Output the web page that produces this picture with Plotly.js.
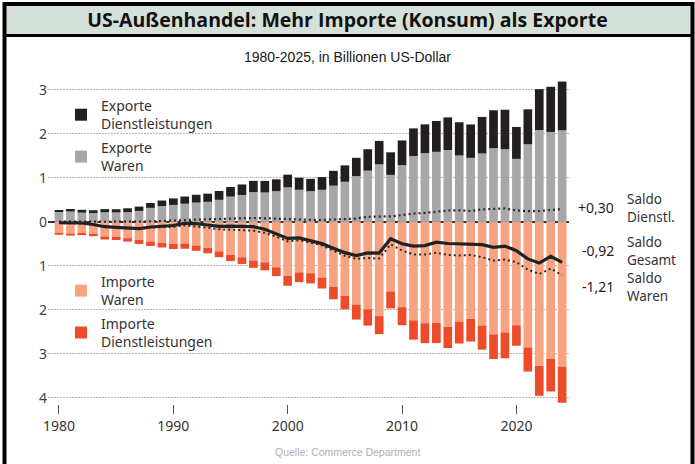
<!DOCTYPE html>
<html>
<head>
<meta charset="utf-8">
<script src="https://cdn.plot.ly/plotly-3.0.1.min.js"></script>
<style>
  html, body { margin: 0; padding: 0; background: #ffffff; }
  #chart { width: 695px; height: 464px; }
</style>
</head>
<body>
<div id="chart"></div>
<script>
// ---- Data (Billionen US-Dollar) ----
const years = [1980,1981,1982,1983,1984,1985,1986,1987,1988,1989,
               1990,1991,1992,1993,1994,1995,1996,1997,1998,1999,
               2000,2001,2002,2003,2004,2005,2006,2007,2008,2009,
               2010,2011,2012,2013,2014,2015,2016,2017,2018,2019,
               2020,2021,2022,2023,2024];

const exporteWaren = [0.224,0.237,0.211,0.202,0.220,0.216,0.223,0.250,0.320,0.360,
                      0.387,0.414,0.440,0.457,0.503,0.575,0.612,0.678,0.670,0.698,
                      0.785,0.731,0.698,0.730,0.824,0.913,1.041,1.165,1.309,1.070,
                      1.290,1.499,1.563,1.594,1.636,1.511,1.457,1.557,1.677,1.655,
                      1.434,1.766,2.090,2.046,2.084];

const exporteDienst = [0.048,0.057,0.064,0.064,0.071,0.073,0.087,0.099,0.111,0.127,
                       0.148,0.164,0.177,0.186,0.200,0.219,0.240,0.256,0.263,0.271,
                       0.290,0.274,0.281,0.290,0.338,0.373,0.417,0.488,0.533,0.513,
                       0.563,0.628,0.656,0.702,0.741,0.755,0.759,0.831,0.862,0.896,
                       0.726,0.795,0.929,1.027,1.108];

const importeWaren = [-0.250,-0.265,-0.248,-0.269,-0.332,-0.338,-0.368,-0.410,-0.447,-0.478,
                      -0.498,-0.491,-0.537,-0.589,-0.669,-0.749,-0.803,-0.877,-0.919,-1.032,
                      -1.227,-1.148,-1.167,-1.264,-1.477,-1.682,-1.879,-1.986,-2.141,-1.580,
                      -1.939,-2.240,-2.304,-2.294,-2.386,-2.273,-2.207,-2.358,-2.556,-2.512,
                      -2.349,-2.852,-3.273,-3.107,-3.296];

const importeDienst = [-0.042,-0.046,-0.052,-0.055,-0.068,-0.073,-0.080,-0.091,-0.099,-0.103,
                       -0.118,-0.119,-0.120,-0.124,-0.133,-0.141,-0.153,-0.166,-0.181,-0.199,
                       -0.224,-0.222,-0.231,-0.250,-0.282,-0.302,-0.341,-0.371,-0.409,-0.387,
                       -0.409,-0.437,-0.452,-0.461,-0.481,-0.492,-0.512,-0.545,-0.562,-0.588,
                       -0.466,-0.550,-0.680,-0.748,-0.815];

const saldoWaren = [-0.026,-0.028,-0.036,-0.067,-0.113,-0.122,-0.145,-0.160,-0.127,-0.118,
                    -0.111,-0.077,-0.097,-0.133,-0.166,-0.174,-0.191,-0.198,-0.248,-0.334,
                    -0.442,-0.417,-0.469,-0.534,-0.654,-0.769,-0.839,-0.821,-0.833,-0.510,
                    -0.649,-0.741,-0.741,-0.701,-0.750,-0.762,-0.750,-0.801,-0.879,-0.857,
                    -0.915,-1.086,-1.183,-1.061,-1.212];

const saldoDienst = [0.006,0.012,0.012,0.009,0.004,0.000,0.007,0.008,0.012,0.025,
                     0.030,0.046,0.058,0.062,0.067,0.078,0.087,0.090,0.082,0.072,
                     0.067,0.053,0.050,0.040,0.056,0.071,0.076,0.118,0.124,0.126,
                     0.154,0.191,0.204,0.240,0.260,0.264,0.247,0.286,0.300,0.307,
                     0.260,0.245,0.249,0.278,0.293];

const saldoGesamt = [-0.019,-0.016,-0.024,-0.058,-0.109,-0.122,-0.139,-0.152,-0.115,-0.093,
                     -0.081,-0.031,-0.039,-0.070,-0.099,-0.096,-0.104,-0.108,-0.166,-0.262,
                     -0.375,-0.364,-0.420,-0.494,-0.598,-0.698,-0.763,-0.703,-0.709,-0.384,
                     -0.495,-0.550,-0.537,-0.460,-0.490,-0.498,-0.503,-0.516,-0.579,-0.550,
                     -0.655,-0.841,-0.934,-0.782,-0.919];

const yTickVals = [3, 2, 1, 0, -1, -2, -3, -4];
const yTickText = ['3', '2', '1', '0', '1', '2', '3', '4'];
const xTickVals = [1980, 1990, 2000, 2010, 2020];

const titleText = 'US-Außenhandel: Mehr Importe (Konsum) als Exporte';
const subtitleText = '1980-2025, in Billionen US-Dollar';
const sourceText = 'Quelle: Commerce Department';
const endLabels = [
  {value: '+0,30', label: 'Saldo<br>Dienstl.', py: 208},
  {value: '-0,92', label: 'Saldo<br>Gesamt', py: 251},
  {value: '-1,21', label: 'Saldo<br>Waren', py: 287}
];

// ---- Layout geometry ----
const W = 695, H = 464;
const L = 48, R = 126, T = 79, B = 59.8;
const PW = W - L - R, PH = H - T - B;
const px2x = px => (px - L) / PW;
const py2y = py => 1 - (py - T) / PH;

const C_BLACK = '#231f20', C_GREY = '#a7a7a9', C_SALMON = '#f7a382', C_RED = '#ee4b2b';
const FONT = 'Noto Sans, Open Sans, sans-serif';

const traces = [
  {type: 'bar', x: years, y: exporteWaren, name: 'Exporte<br>Waren',
   marker: {color: C_GREY, line: {width: 0}}, legend: 'legend', legendgroup: 'ew', legendrank: 2},
  {type: 'bar', x: years, y: exporteDienst, name: 'Exporte<br>Dienstleistungen',
   marker: {color: C_BLACK, line: {width: 0}}, legend: 'legend', legendgroup: 'ed', legendrank: 1},
  {type: 'bar', x: years, y: importeWaren, name: 'Importe<br>Waren',
   marker: {color: C_SALMON, line: {width: 0}}, legend: 'legend2', legendgroup: 'iw', legendrank: 1},
  {type: 'bar', x: years, y: importeDienst, name: 'Importe<br>Dienstleistungen',
   marker: {color: C_RED, line: {width: 0}}, legend: 'legend2', legendgroup: 'id', legendrank: 2},
  {type: 'scatter', mode: 'lines', x: years, y: saldoDienst, name: 'Saldo Dienstl.', showlegend: false,
   line: {color: '#2a2a2a', width: 2.2, dash: '2px,3px'}},
  {type: 'scatter', mode: 'lines', x: years, y: saldoWaren, name: 'Saldo Waren', showlegend: false,
   line: {color: '#2a2a2a', width: 2, dash: '2px,3px'}},
  {type: 'scatter', mode: 'lines', x: years, y: saldoGesamt, name: 'Saldo Gesamt', showlegend: false,
   line: {color: '#222222', width: 3.2}}
];

const annotations = [
  {text: subtitleText, xref: 'paper', yref: 'paper', x: px2x(347.5), y: py2y(57),
   xanchor: 'center', yanchor: 'middle', showarrow: false,
   font: {family: 'Liberation Sans, Arial, sans-serif', size: 14, color: '#1a1a1a'}},
  {text: sourceText, xref: 'paper', yref: 'paper', x: px2x(347.5), y: py2y(452),
   xanchor: 'center', yanchor: 'middle', showarrow: false,
   font: {family: 'Liberation Sans, Arial, sans-serif', size: 10.5, color: '#b0b0b0'}}
];
endLabels.forEach(e => {
  annotations.push({text: e.value, xref: 'paper', yref: 'paper', x: px2x(616), y: py2y(e.py),
    xanchor: 'right', yanchor: 'middle', showarrow: false,
    font: {family: FONT, size: 14, color: '#1e1e1e'}});
  annotations.push({text: e.label, xref: 'paper', yref: 'paper', x: px2x(625), y: py2y(e.py),
    xanchor: 'left', yanchor: 'middle', align: 'left', showarrow: false,
    font: {family: FONT, size: 13.5, color: '#333333'}});
});

const shapes = [
  // outer frame
  {type: 'rect', xref: 'paper', yref: 'paper', layer: 'above',
   x0: px2x(4.5), x1: px2x(692.5), y0: py2y(480), y1: py2y(4),
   line: {color: '#000000', width: 4}, fillcolor: 'rgba(0,0,0,0)'},
  // header band
  {type: 'rect', xref: 'paper', yref: 'paper', layer: 'below',
   x0: px2x(4.5), x1: px2x(692.5), y0: py2y(35.5), y1: py2y(4),
   line: {color: '#000000', width: 3}, fillcolor: '#d5e0d8'}
];

const legendFont = {family: FONT, size: 14, color: '#333333'};

const layout = {
  width: W, height: H, autosize: false,
  margin: {l: L, r: R, t: T, b: B, pad: 0},
  paper_bgcolor: '#ffffff', plot_bgcolor: '#ffffff',
  barmode: 'relative', bargap: 0.24,
  title: {text: titleText, x: 0.5, xref: 'container', xanchor: 'center',
          y: 1 - 20 / H, yref: 'container', yanchor: 'middle',
          font: {family: 'Open Sans, sans-serif', size: 19.5, weight: 700, color: '#111111'}},
  xaxis: {range: [1979.04, 2024.6], tickvals: xTickVals, ticks: 'outside', ticklen: 9,
          tickcolor: '#555555', tickwidth: 1, showgrid: false, zeroline: false, showline: false,
          tickfont: {family: FONT, size: 14, color: '#333333'}, fixedrange: true},
  yaxis: {range: [-4.14, 3.25], tickvals: yTickVals, ticktext: yTickText, ticks: '',
          showgrid: true, gridcolor: '#b8b8b8', gridwidth: 1, griddash: '1.5px,1.5px',
          zeroline: true, zerolinecolor: '#333333', zerolinewidth: 1.3, showline: false,
          tickfont: {family: FONT, size: 14, color: '#444444'}, fixedrange: true},
  showlegend: true,
  legend: {x: px2x(61), y: py2y(90), xanchor: 'left', yanchor: 'top', xref: 'paper', yref: 'paper',
           bgcolor: 'rgba(0,0,0,0)', font: legendFont, traceorder: 'grouped', tracegroupgap: 2.5,
           valign: 'middle'},
  legend2: {x: px2x(61), y: py2y(266), xanchor: 'left', yanchor: 'top', xref: 'paper', yref: 'paper',
            bgcolor: 'rgba(0,0,0,0)', font: legendFont, traceorder: 'grouped', tracegroupgap: 2.5,
            valign: 'middle'},
  annotations: annotations,
  shapes: shapes
};

Plotly.newPlot('chart', traces, layout, {displayModeBar: false, staticPlot: true});
</script>
</body>
</html>
